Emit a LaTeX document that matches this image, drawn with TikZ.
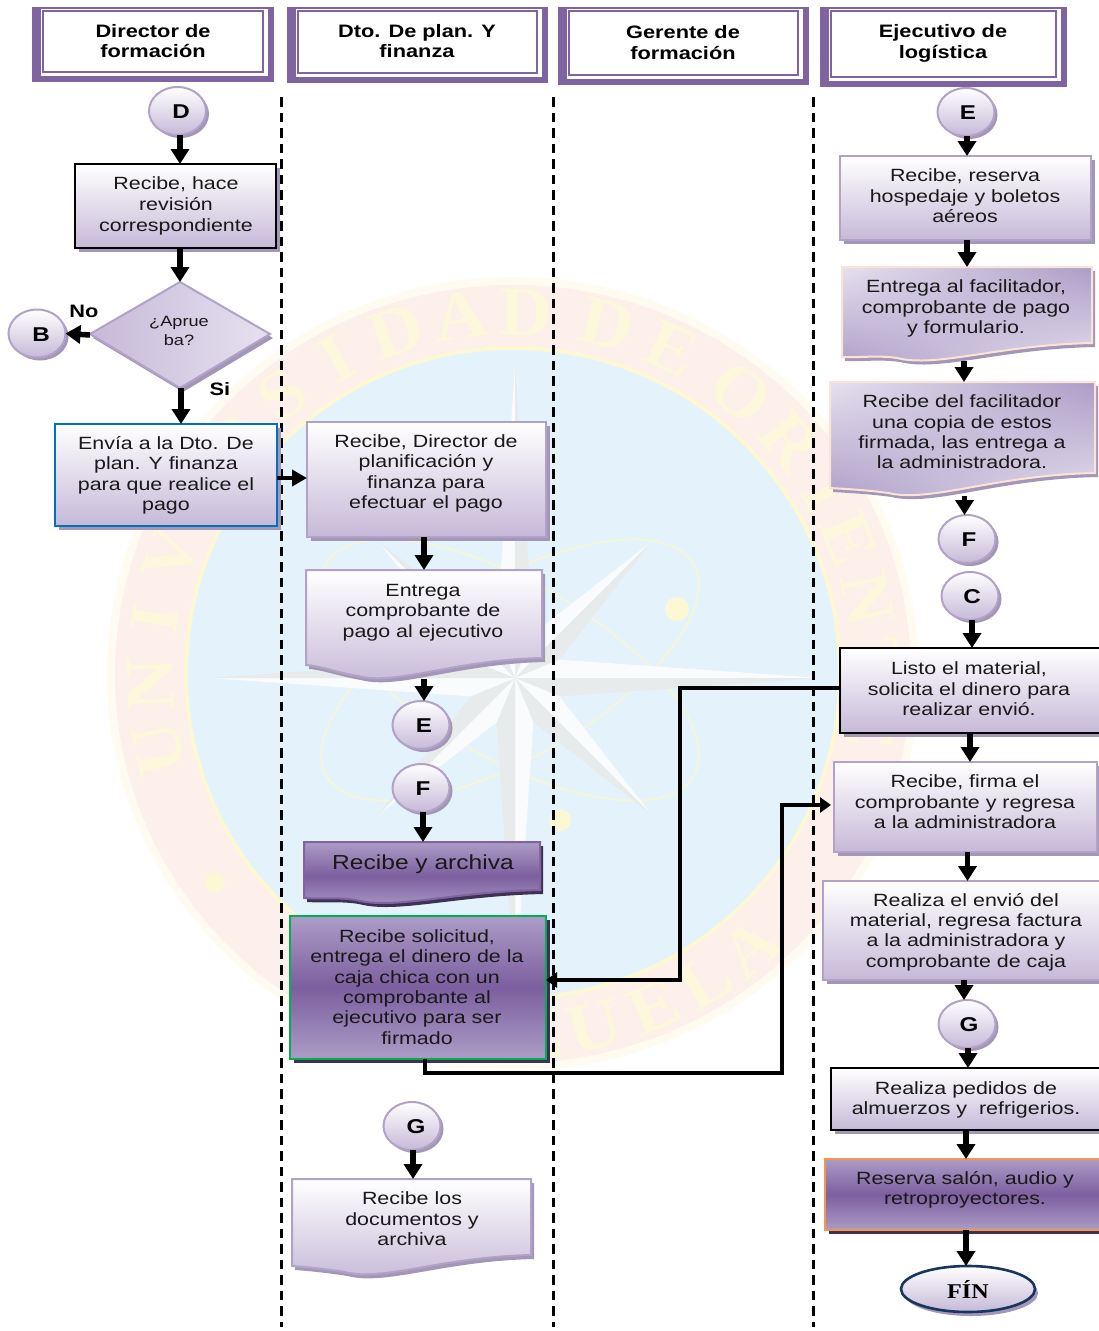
\documentclass[tikz,border=0pt]{standalone}
\usepackage{fontspec}
\usetikzlibrary{arrows.meta,shapes.geometric,shadings,fit}
\setmainfont{Liberation Sans}[FakeStretch=1.21]
\newfontfamily\wmfont{Liberation Serif}[FakeStretch=1.05]
\newfontfamily\finfont{Liberation Serif}[FakeStretch=1.15]
\definecolor{lav}{HTML}{C6B9D8}
\definecolor{lavline}{HTML}{B2A2C7}
\definecolor{lavshadow}{HTML}{A397B8}
\definecolor{pur}{HTML}{8064A2}
\definecolor{purmid}{HTML}{7C5F9F}
\definecolor{purtop}{HTML}{AC9CC6}
\definecolor{pale}{HTML}{E6E1EF}
\definecolor{darkshadow}{HTML}{3F3151}
\definecolor{cream}{HTML}{FBE4D5}
\definecolor{wmblue}{HTML}{E4F2FB}
\definecolor{wmring}{HTML}{FDEFEA}
\definecolor{wmrim}{HTML}{FFFBF0}
\definecolor{wmletter}{HTML}{FDF7DC}
\definecolor{wmyel}{HTML}{FCF8D4}
\definecolor{wmorbit}{HTML}{F4F6DA}
\definecolor{wmstara}{HTML}{F9FBFC}
\definecolor{wmstarb}{HTML}{E8EBEC}
\definecolor{bluedge}{RGB}{0,112,192}
\definecolor{greenedge}{RGB}{0,176,80}
\definecolor{orangeedge}{RGB}{247,150,70}
\definecolor{navyedge}{RGB}{23,54,93}
\tikzset{
  light/.style={shade,top color=white,bottom color=lav},
  dark/.style={shade,top color=purtop,bottom color=purtop,middle color=purmid},
  diag/.style={shade,upper left=pale,upper right=purtop,lower left=purtop,lower right=pale},
  edgelight/.style={draw=lavline,line width=2pt},
  edgeblack/.style={draw=black,line width=2.8pt},
  edgeblue/.style={draw=bluedge,line width=2.6pt},
  edgegreen/.style={draw=greenedge,line width=2.6pt},
  edgeorange/.style={draw=orangeedge,line width=2.6pt},
  edgecream/.style={draw=cream,line width=2pt},
  edgepur/.style={draw=pur,line width=2pt},
  txt/.style={inner sep=0pt,align=center,font=\fontsize{17.7}{20.4}\selectfont,text=black!90},
  head/.style={inner sep=0pt,align=center,font=\fontsize{18}{20.4}\selectfont\bfseries},
  anchorbox/.style={inner sep=0pt,outer sep=0pt},
  arr/.style={line width=5.5pt,-{Triangle[width=18pt,length=15pt]}},
  arrthin/.style={line width=4pt,-{Triangle[width=16pt,length=15pt]}},
  elbow/.style={line width=4.6pt,-{Triangle[width=15pt,length=11pt]},miter limit=10},
  swim/.style={line width=3pt,dash pattern=on 9.5pt off 6pt},
  circ/.style={ellipse,inner sep=0pt,outer sep=0pt,minimum width=57pt,minimum height=48pt,
    draw=lavline,line width=2pt,shade,top color=white,bottom color=lav},
  circtxt/.style={inner sep=0pt,font=\fontsize{20}{22}\selectfont\bfseries},
  wmtxt/.style={inner sep=0pt,text=wmletter,font=\wmfont\bfseries\fontsize{70}{70}\selectfont},
}
% header: name, x1,y1,x2,y2, text x, text y, text
\newcommand\hdr[8]{%
  \fill[pur] (#2,#3) rectangle (#4,#5);
  \fill[white] (#2+9,#3+2) rectangle (#4-6,#5-6);
  \draw[pur,line width=1.4pt] (#2+11,#3+4) rectangle (#4-11,#5-10);
  \node[fit={(#2,#3)(#4,#5)},anchorbox] (#1) {};
  \node[head] (#1t) at (#6,#7) {#8};
}
% box: name, fill, edge, shadow colour, x1,y1,x2,y2
\newcommand\rbox[8]{%
  \fill[#4,shift={(4,4)}] (#5,#6) rectangle (#7,#8);
  \path[#2,#3] (#5,#6) rectangle (#7,#8);
  \node[fit={(#5,#6)(#7,#8)},anchorbox] (#1) {};
}
% wave-bottom box: name, fill, edge, shadow, x1,y1,x2, right y, left y, dip y
\newcommand\wbox[9]{\def\wboxname{#1}\def\wfill{#2}\def\wedge{#3}\def\wshadow{#4}%
  \def\wxa{#5}\def\wya{#6}\def\wxb{#7}\def\wyr{#8}\def\wyl{#9}\wboxrest}
\newcommand\wboxrest[1]{%
  \def\wavepath{(\wxa,\wya) -- (\wxb,\wya) -- (\wxb,\wyr)
    .. controls (\wxa+0.62*\wxb-0.62*\wxa,\wyr+2) and (\wxa+0.38*\wxb-0.38*\wxa,#1+7) ..
    (\wxa+0.22*\wxb-0.22*\wxa,#1-3) .. controls (\wxa+0.14*\wxb-0.14*\wxa,#1-6) and (\wxa+0.06*\wxb-0.06*\wxa,\wyl+1) .. (\wxa,\wyl) -- cycle}%
  \fill[\wshadow,shift={(3,4)}] \wavepath;
  \path[\wfill,\wedge] \wavepath;
  \node[fit={(\wxa,\wya)(\wxb,#1)},anchorbox] (\wboxname) {};
}
% circle: name, cx, cy, letter x, letter
\newcommand\cnode[5]{%
  \fill[lavshadow] (#2+3,#3+3) ellipse [x radius=28.5pt,y radius=24pt];
  \node[circ] (#1) at (#2,#3) {};
  \node[circtxt] (#1t) at (#4,#3+1) {#5};
}
% vertical connector: from, to, xshift from the first node's south
\newcommand\conn[3]{\draw[arr] ([xshift=#3pt]#1.south) -- ([xshift=#3pt]#1.south |- #2.north);}
\begin{document}
\begin{tikzpicture}[x=1pt,y=-1pt]
\useasboundingbox (0,0) rectangle (1099,1331);
\clip (0,0) rectangle (1099,1331);
\fill[white] (0,0) rectangle (1099,1331);

% ---------- watermark seal
\fill[wmrim] (513,674) ellipse [x radius=406pt,y radius=397pt];
\fill[wmring] (513,674) ellipse [x radius=398pt,y radius=389pt];
\fill[wmyel] (513,673) ellipse [x radius=329pt,y radius=327pt];
\fill[wmblue] (513,673) ellipse [x radius=325pt,y radius=323pt];
\foreach \r in {30,-30}{
  \draw[wmorbit,line width=2pt,rotate around={\r:(510,670)}] (510,670) ellipse [x radius=212pt,y radius=88pt];
}
\fill[wmyel] (677,609) circle [radius=12pt];
\fill[wmyel] (560,820) circle [radius=11pt];
\fill[wmyel] (215,882) circle [radius=10pt];
\foreach \a/\r in {90/312,45/193,0/306,-45/193,-90/316,-135/193,180/306,135/193}{
  \fill[wmstara] (515,678) -- ({515+\r*cos(\a)},{678-\r*sin(\a)}) -- ({515+48*cos(\a+22.5)},{678-48*sin(\a+22.5)}) -- cycle;
  \fill[wmstarb] (515,678) -- ({515+\r*cos(\a)},{678-\r*sin(\a)}) -- ({515+48*cos(\a-22.5)},{678-48*sin(\a-22.5)}) -- cycle;
}
\foreach \c/\a in {U/192,N/181.6,I/171.2,V/160.8,E/150.4,R/140,S/129.6,I/119.2,D/108.8,A/98.4,D/88,D/75,E/64,O/51,R/40,I/30,E/22,N/12,T/2,E/-8}{
  \node[wmtxt,rotate=\a-90] at ({513+362*cos(\a)},{674-362*sin(\a)}) {\c};
}
\foreach \c/\a in {V/238,E/247,N/256,E/265,Z/274,U/283,E/293,L/302,A/311}{
  \node[wmtxt,rotate=\a+90] at ({513+362*cos(\a)},{674-362*sin(\a)}) {\c};
}

% ---------- swimlane separators
\coordinate (s1a) at (281,97); \coordinate (s1b) at (281,1327);
\coordinate (s2a) at (553,97); \coordinate (s2b) at (553,1327);
\coordinate (s3a) at (813,97); \coordinate (s3b) at (813,1327);
\draw[swim] (s1a) -- (s1b);
\draw[swim] (s2a) -- (s2b);
\draw[swim] (s3a) -- (s3b);

% ---------- headers
\hdr{h1}{32}{7}{274}{82}{153}{41}{Director de\\formación}
\hdr{h2}{287}{7}{548}{83}{417}{41}{Dto. De plan. Y\\finanza}
\hdr{h3}{558}{7}{809}{85}{683}{42.5}{Gerente de\\formación}
\hdr{h4}{820}{7}{1067}{87}{943}{43.5}{Ejecutivo de\\logística}

% ---------- lane 1
\cnode{cD}{177.5}{111}{181}{D}
\rbox{a1}{light}{edgeblack}{lavshadow}{75}{164}{276}{248}
\node[txt,font=\fontsize{17.7}{21}\selectfont] (a1t) at (176,206) {Recibe, hace\\revisión\\correspondiente};
\fill[lavshadow,shift={(3,4)}] (90,334) -- (180,282) -- (270,334) -- (180,388) -- cycle;
\path[shade,left color=lav,right color=pale,edgelight] (90,334) -- (180,282) -- (270,334) -- (180,388) -- cycle;
\node[fit={(90,282)(270,388)},anchorbox] (a2) {};
\node[txt,font=\fontsize{15}{19}\selectfont] (a2t) at (179,331) {¿Aprue\\ba?};
\cnode{cB}{37}{333.5}{41}{B}
\node[head] (no) at (84,311) {No};
\node[head] (si) at (220,389) {Si};
\rbox{a3}{light}{edgeblue}{lavshadow}{55}{424}{277}{526}
\node[txt] (a3t) at (166,475.5) {Envía a la Dto. De\\plan. Y finanza\\para que realice el\\pago};

% ---------- lane 2
\rbox{b1}{light}{edgelight}{lavshadow}{307}{422}{546}{537}
\node[txt] (b1t) at (426,473.5) {Recibe, Director de\\planificación y\\finanza para\\efectuar el pago};
\wbox{b2}{light}{edgelight}{lavshadow}{306}{570}{542}{658}{665}{679}
\node[txt] (b2t) at (423,612.5) {Entrega\\comprobante de\\pago al ejecutivo};
\cnode{cE1}{421}{725}{424}{E}
\cnode{cF1}{421}{788}{423}{F}
\wbox{b3}{dark}{edgepur}{darkshadow}{304}{842}{540}{890}{898}{903}
\node[txt,font=\fontsize{20.3}{22}\selectfont] (b3t) at (423,864) {Recibe y archiva};
\rbox{b4}{dark}{edgegreen}{darkshadow}{290}{916}{546}{1059}
\node[txt] (b4t) at (417,987) {Recibe solicitud,\\entrega el dinero de la\\caja chica con un\\comprobante al\\ejecutivo para ser\\firmado};
\cnode{cG1}{412}{1126}{416}{G}
\wbox{b5}{light}{edgelight}{lavshadow}{292}{1179}{531}{1255}{1266}{1275}
\node[txt] (b5t) at (412,1219) {Recibe los\\documentos y\\archiva};

% ---------- lane 4
\cnode{cE2}{966}{112}{968}{E}
\rbox{d1}{light}{edgelight}{lavshadow}{840}{156}{1091}{240}
\node[txt] (d1t) at (965,196) {Recibe, reserva\\hospedaje y boletos\\aéreos};
\wbox{d2}{diag}{edgecream}{lavshadow}{842}{267}{1092}{343}{357}{361}
\node[txt] (d2t) at (966,308.5) {Entrega al facilitador,\\comprobante de pago\\y formulario.};
\wbox{d3}{diag}{edgecream}{lavshadow}{830}{382}{1095}{473}{488}{496}
\node[txt] (d3t) at (962,432) {Recibe del facilitador\\una copia de estos\\firmada, las entrega a\\la administradora.};
\cnode{cF2}{967}{539}{969}{F}
\cnode{cC}{970}{596}{972}{C}
\rbox{d4}{light}{edgeblack}{lavshadow}{840}{648}{1110}{733}
\node[txt] (d4t) at (969,689) {Listo el material,\\solicita el dinero para\\realizar envió.};
\rbox{d5}{light}{edgelight}{lavshadow}{834}{762}{1097}{852}
\node[txt] (d5t) at (965,802) {Recibe, firma el\\comprobante y regresa\\a la administradora};
\rbox{d6}{light}{edgelight}{lavshadow}{823}{881}{1110}{980}
\node[txt] (d6t) at (966,932) {Realiza el envió del\\material, regresa factura\\a la administradora y\\comprobante de caja};
\cnode{cG2}{967}{1024}{969}{G}
\rbox{d7}{light}{edgeblack}{lavshadow}{831}{1068}{1110}{1130}
\node[txt] (d7t) at (966,1100) {Realiza pedidos de\\almuerzos y\ \ refrigerios.};
\rbox{d8}{dark}{edgeorange}{darkshadow}{825}{1159}{1110}{1230}
\node[txt] (d8t) at (965,1190) {Reserva salón, audio y\\retroproyectores.};
\fill[lavshadow] (971,1293) ellipse [x radius=67pt,y radius=23pt];
\node[ellipse,inner sep=0pt,outer sep=0pt,minimum width=134pt,minimum height=46pt,draw=navyedge,line width=2.6pt,shade,top color=white,bottom color=lav] (fin) at (968,1289) {};
\node[inner sep=0pt,font=\fontsize{21}{23}\selectfont\finfont\bfseries] (fint) at (968,1289.5) {FÍN};

% ---------- connectors
\conn{cD}{a1}{2.5}
\conn{a1}{a2}{4.5}
\draw[arr] (a2.west) -- (cB.east);
\conn{a2}{a3}{1}
\draw[arrthin] ([yshift=-3pt]a3.east) -- ([yshift=-3pt]a3.east -| b1.west);
\conn{b1}{b2}{-2.5}
\conn{b2}{cE1}{0}
\conn{cF1}{b3}{2}
\conn{cG1}{b5}{1}
\conn{cE2}{d1}{1}
\conn{d1}{d2}{1.5}
\conn{d2}{d3}{-3}
\conn{d3}{cF2}{2}
\conn{cC}{d4}{2}
\conn{d4}{d5}{-5}
\conn{d5}{d6}{2}
\conn{d6}{cG2}{-2.5}
\conn{cG2}{d7}{1}
\conn{d7}{d8}{-4.5}
\conn{d8}{fin}{-1.5}
\coordinate (e1) at (680,688);
\coordinate (e2) at (680,980);
\draw[elbow] ([yshift=2.5pt]d4.west) -- (e1) -- (e2) -- ([yshift=7.5pt]b4.east);
\coordinate (e3) at (425,1073);
\coordinate (e4) at (782,1073);
\coordinate (e5) at (782,805);
\draw[elbow] ([xshift=7pt]b4.south) -- (e3) -- (e4) -- (e5) -- ([xshift=-3pt]e5 -| d5.west);
\end{tikzpicture}
\end{document}
